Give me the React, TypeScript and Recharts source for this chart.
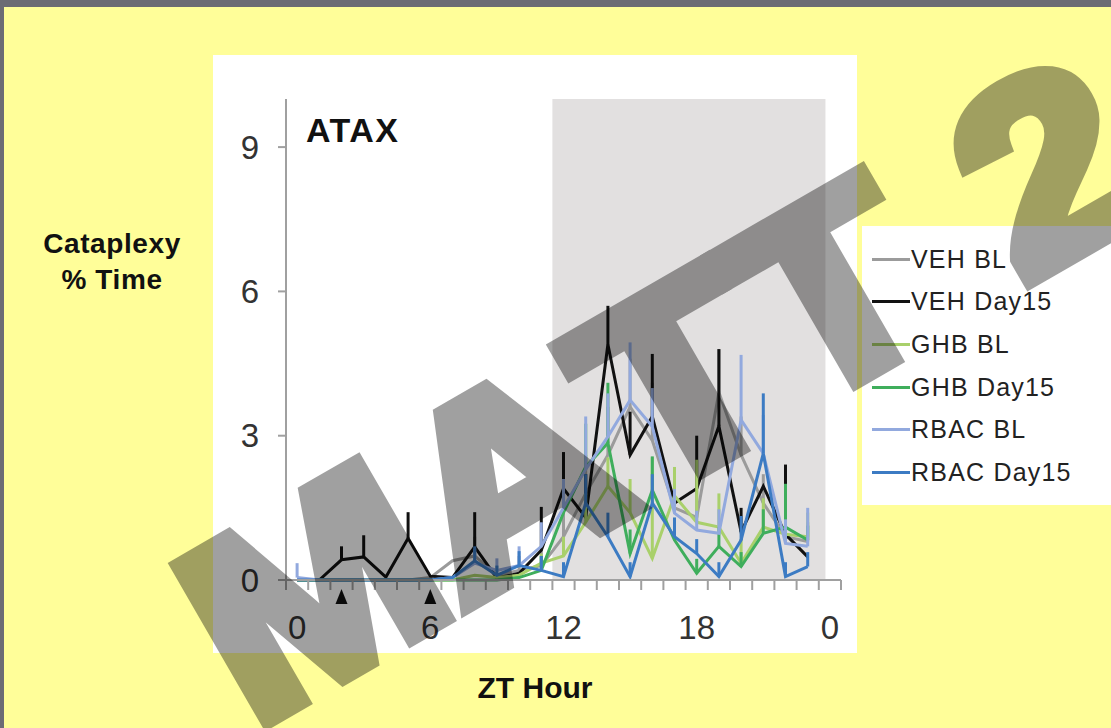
import React from "react";
import { LineChart, Line, XAxis, YAxis, ErrorBar, ReferenceArea, ReferenceDot, Legend } from "recharts";

// ZT hours 0..23
const hours = [0, 1, 2, 3, 4, 5, 6, 7, 8, 9, 10, 11, 12, 13, 14, 15, 16, 17, 18, 19, 20, 21, 22, 23];

const vehBL = [0, 0, 0, 0, 0, 0, 0.05, 0.4, 0.5, 0.1, 0.2, 0.3, 0.9, 1.8, 2.6, 3.6, 2.9, 1.5, 1.3, 3.9, 2.6, 1.6, 0.9, 0.8];
const vehBLErr = [0, 0, 0, 0, 0, 0, 0, 0, 0.4, 0, 0.3, 0.4, 0.6, 0.8, 1.0, 1.0, 1.2, 0.6, 0.6, 0.9, 0.8, 0.6, 0.5, 0.4];

const veh15 = [0, 0, 0.42, 0.48, 0.06, 0.87, 0.08, 0.05, 0.69, 0.04, 0.14, 0.62, 1.9, 1.3, 4.9, 2.6, 3.4, 1.6, 1.9, 3.2, 1.0, 1.95, 0.95, 0.48];
const veh15Err = [0, 0, 0.28, 0.45, 0, 0.54, 0, 0, 0.72, 0, 0, 0.9, 0.76, 0.9, 0.8, 0.9, 1.3, 0, 1.1, 1.6, 0.5, 0, 1.45, 0];

const ghbBL = [0, 0, 0, 0, 0, 0, 0, 0, 0.1, 0.05, 0.1, 0.35, 0.5, 1.2, 1.95, 1.4, 0.45, 1.75, 1.2, 1.1, 0.35, 1.1, 0.95, 0.9];
const ghbBLErr = [0, 0, 0, 0, 0, 0, 0, 0, 0, 0, 0, 0.2, 0.4, 0.6, 0.6, 0.7, 2.1, 0.6, 1.3, 0.7, 0.5, 0.6, 0.5, 0.5];

const ghb15 = [0, 0, 0, 0, 0, 0, 0, 0, 0, 0, 0.05, 0.2, 1.4, 2.35, 2.85, 0.55, 1.87, 0.83, 0.14, 0.7, 0.28, 0.97, 1.1, 0.83];
const ghb15Err = [0, 0, 0, 0, 0, 0, 0, 0, 0, 0, 0, 0.3, 0.5, 0.9, 1.25, 0.5, 0.7, 0.4, 0.3, 0.4, 0.3, 0.5, 0.9, 0.3];

const rbacBL = [0.05, 0, 0, 0, 0, 0, 0, 0.05, 0.35, 0.2, 0.3, 0.7, 1.5, 2.3, 2.98, 3.74, 3.19, 1.39, 1.04, 0.97, 3.33, 2.63, 0.76, 0.7];
const rbacBLErr = [0.3, 0, 0, 0, 0, 0, 0, 0, 0.3, 0.25, 0.4, 0.5, 0.6, 1.1, 0.9, 1.2, 0.8, 0.5, 0.4, 0.5, 1.35, 0.8, 0.5, 0.8];

const rbac15 = [0, 0, 0, 0, 0, 0, 0, 0.05, 0.4, 0.1, 0.3, 0.2, 0.07, 1.6, 0.9, 0.07, 1.6, 0.9, 0.55, 0.07, 0.83, 2.63, 0.07, 0.28];
const rbac15Err = [0, 0, 0, 0, 0, 0, 0, 0, 0.3, 0.2, 0.3, 0.3, 0.3, 0.6, 0.5, 0.3, 0.6, 0.4, 0.3, 0.3, 0.5, 1.25, 0.3, 0.3];

const labelTicks = [0, 6, 12, 18, 24];
const yTicks = [0, 3, 6, 9];
const injectionHours = [2, 6];

const series = [
  { key: "vehBL", name: "VEH BL", color: "#9b9b9b", vals: vehBL, err: vehBLErr },
  { key: "veh15", name: "VEH Day15", color: "#111111", vals: veh15, err: veh15Err },
  { key: "ghbBL", name: "GHB BL", color: "#a9d06b", vals: ghbBL, err: ghbBLErr },
  { key: "ghb15", name: "GHB Day15", color: "#3fae5c", vals: ghb15, err: ghb15Err },
  { key: "rbacBL", name: "RBAC BL", color: "#92a9de", vals: rbacBL, err: rbacBLErr },
  { key: "rbac15", name: "RBAC Day15", color: "#3c7bc3", vals: rbac15, err: rbac15Err },
];

const data = hours.map((h, i) => {
  const row: any = { h };
  series.forEach((s) => {
    row[s.key] = s.vals[i];
    row[s.key + "Err"] = [0, s.err[i]];
  });
  return row;
});

// boundaries between the hour categories get the small tick marks
const minorTicks = Array.from({ length: 26 }, (_, i) => i - 0.5);
const xTicks = [...minorTicks, ...labelTicks].sort((a, b) => a - b);

const FONT = "'Liberation Sans', Arial, sans-serif";

const XTick = (props: any) => {
  const { x, y, payload } = props;
  const v = payload.value;
  if (!Number.isInteger(v)) {
    return <line x1={x} x2={x} y1={y} y2={y + 10} stroke="#a0a0a0" strokeWidth={2} />;
  }
  return (
    <text x={x} y={y + 59} textAnchor="middle" fontSize={33} fill="#333" fontFamily={FONT}>
      {v === 24 ? "0" : v}
    </text>
  );
};

const Triangle = (props: any) => {
  const { cx, cy } = props;
  return <path d={`M${cx},${cy + 9} L${cx + 6},${cy + 24} L${cx - 6},${cy + 24} Z`} fill="#111" />;
};

const LegendBox = () => (
  <div style={{ background: "#fff", width: 249, height: 279, paddingTop: 12, boxSizing: "border-box" }}>
    {series.map((s) => (
      <div key={s.key} style={{ display: "flex", alignItems: "center", height: 42.6 }}>
        <div style={{ width: 38, height: 3, background: s.color, marginLeft: 10 }} />
        <span style={{ fontFamily: FONT, fontSize: 25, color: "#222", letterSpacing: 1.2, marginLeft: 1 }}>{s.name}</span>
      </div>
    ))}
  </div>
);

export default function App() {
  return (
    <div style={{ position: "absolute", left: 0, top: 0, width: 1111, height: 728, background: "#6c6c74", overflow: "hidden" }}>
      <div style={{ position: "absolute", left: 4, top: 7, right: 0, bottom: 0, background: "#fffe99" }} />
      <div style={{ position: "absolute", left: 213, top: 55, width: 644, height: 598, background: "#fff" }} />

      <div style={{ position: "absolute", left: 0, top: 0 }}>
        <LineChart width={1111} height={728} data={data} margin={{ top: 99, right: 270, bottom: 108, left: 226 }}>
          <ReferenceArea x1={11.5} x2={23.8} y1={0} y2={10} fill="#e2e0e0" fillOpacity={1} stroke="none" />
          <XAxis
            dataKey="h"
            type="number"
            domain={[-0.5, 24.5]}
            ticks={xTicks}
            interval={0}
            tick={<XTick />}
            tickLine={false}
            tickSize={0}
            tickMargin={0}
            height={40}
            axisLine={{ stroke: "#a0a0a0", strokeWidth: 2 }}
          />
          <YAxis
            type="number"
            domain={[0, 10]}
            ticks={yTicks}
            width={60}
            tickSize={8}
            tickMargin={19}
            tickLine={{ stroke: "#a0a0a0", strokeWidth: 2 }}
            axisLine={{ stroke: "#a0a0a0", strokeWidth: 2 }}
            tick={{ fontSize: 33, fill: "#333", fontFamily: FONT }}
          />
          {injectionHours.map((h) => (
            <ReferenceDot key={h} x={h} y={0} r={0} shape={<Triangle />} ifOverflow="visible" />
          ))}
          {series.map((s) => (
            <Line
              key={s.key}
              dataKey={s.key}
              name={s.name}
              stroke={s.color}
              strokeWidth={3}
              dot={false}
              type="linear"
              isAnimationActive={false}
            >
              <ErrorBar dataKey={s.key + "Err"} width={0} stroke={s.color} strokeWidth={3} direction="y" />
            </Line>
          ))}
          <Legend
            layout="vertical"
            align="center"
            verticalAlign="middle"
            content={<LegendBox />}
            wrapperStyle={{ left: 862, top: 226, width: 249, height: 279 }}
          />
        </LineChart>
      </div>

      <div
        style={{
          position: "absolute",
          left: 306,
          top: 111,
          fontFamily: FONT,
          fontWeight: "bold",
          fontSize: 34,
          letterSpacing: 1.5,
          color: "#111",
        }}
      >
        ATAX
      </div>
      <div
        style={{
          position: "absolute",
          left: 22,
          top: 226,
          width: 180,
          textAlign: "center",
          fontFamily: FONT,
          fontWeight: "bold",
          fontSize: 28,
          letterSpacing: 0.6,
          lineHeight: "36px",
          color: "#111",
        }}
      >
        Cataplexy
        <br />% Time
      </div>
      <div
        style={{
          position: "absolute",
          left: 435,
          top: 671,
          width: 200,
          textAlign: "center",
          fontFamily: FONT,
          fontWeight: "bold",
          fontSize: 30,
          color: "#111",
        }}
      >
        ZT Hour
      </div>

      <svg width={1111} height={728} style={{ position: "absolute", left: 0, top: 0, pointerEvents: "none" }}>
        <g opacity={0.37} transform="translate(252 730) rotate(-30) scale(1.12 1)">
          <text
            x={0}
            y={0}
            fontFamily={FONT}
            fontWeight="bold"
            fontSize={260}
            fill="#000"
            stroke="#000"
            strokeWidth={16}
            strokeLinejoin="miter"
            style={{ fontKerning: "none" }}
          >
            MATT 2
          </text>
        </g>
      </svg>
    </div>
  );
}
